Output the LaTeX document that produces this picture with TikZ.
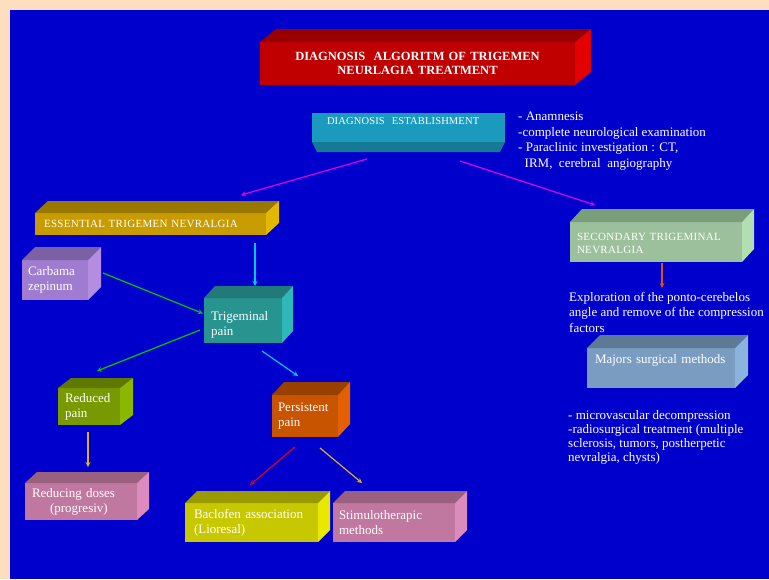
\documentclass[tikz,border=0pt]{standalone}
\usepackage{fontspec}
\setmainfont{Liberation Serif}
\usepackage{tikz}

\definecolor{frame}{RGB}{253,223,192}
\definecolor{sky}{RGB}{0,0,204}
\definecolor{ttlF}{RGB}{192,0,0}\definecolor{ttlT}{RGB}{152,0,0}\definecolor{ttlS}{RGB}{226,0,0}
\definecolor{dgnF}{RGB}{26,155,190}\definecolor{dgnB}{RGB}{22,122,150}
\definecolor{essF}{RGB}{200,156,0}\definecolor{essT}{RGB}{152,120,0}\definecolor{essS}{RGB}{226,184,0}
\definecolor{secF}{RGB}{155,192,155}\definecolor{secT}{RGB}{122,158,122}\definecolor{secS}{RGB}{178,222,178}
\definecolor{majF}{RGB}{122,156,192}\definecolor{majT}{RGB}{92,122,150}\definecolor{majS}{RGB}{138,180,220}
\definecolor{carF}{RGB}{160,124,208}\definecolor{carT}{RGB}{124,96,164}\definecolor{carS}{RGB}{180,140,224}
\definecolor{trgF}{RGB}{40,148,144}\definecolor{trgT}{RGB}{34,122,120}\definecolor{trgS}{RGB}{48,184,184}
\definecolor{perF}{RGB}{200,84,0}\definecolor{perT}{RGB}{152,64,0}\definecolor{perS}{RGB}{226,96,0}
\definecolor{redF}{RGB}{120,154,0}\definecolor{redT}{RGB}{94,120,0}\definecolor{redS}{RGB}{138,184,0}
\definecolor{pnkF}{RGB}{192,120,160}\definecolor{pnkT}{RGB}{154,96,128}\definecolor{pnkS}{RGB}{220,140,188}
\definecolor{bacF}{RGB}{200,200,0}\definecolor{bacT}{RGB}{154,154,0}\definecolor{bacS}{RGB}{232,232,0}
\definecolor{lnMag}{RGB}{224,0,224}
\definecolor{lnCya}{RGB}{0,200,255}
\definecolor{lnGrn}{RGB}{0,200,0}
\definecolor{lnOrg}{RGB}{220,80,20}
\definecolor{lnRed}{RGB}{220,0,30}
\definecolor{lnGld}{RGB}{222,176,40}

% top and right faces of a box
\newcommand{\cubefaces}[5]{%
  \fill[#4] (#1.north west) -- ++(#2,-#3) -- ([shift={(#2,-#3)}]#1.north east) -- (#1.north east) -- cycle;
  \fill[#5] (#1.north east) -- ++(#2,-#3) -- ([shift={(#2,-#3)}]#1.south east) -- (#1.south east) -- cycle;}

\tikzset{
  cube/.style={rectangle, outer sep=0pt, inner ysep=0pt, anchor=north west, text=white, align=left},
  body/.style={font=\fontsize{13}{15}\selectfont},
  caps/.style={font=\fontsize{11}{13}\selectfont\addfontfeature{LetterSpace=2.7}},
  note/.style={text=white, inner sep=0pt, anchor=north west, align=left, font=\fontsize{13}{15.5}\selectfont},
}

\begin{document}
\begin{tikzpicture}[x=1pt, y=-1pt, >=stealth]
\fill[frame] (0,0) rectangle (769,579);
\fill[sky] (10,10) rectangle (769,579);

% boxes
\node[cube, fill=ttlF, minimum width=315pt, minimum height=43pt, inner xsep=6pt, text width=303pt, align=center,
  font=\bfseries\fontsize{12.5}{14}\selectfont] (title) at (260,42) {DIAGNOSIS\ \ ALGORITM OF TRIGEMEN\\NEURLAGIA TREATMENT};
\node[cube, fill=dgnF, minimum width=193pt, minimum height=29pt, inner xsep=15pt, text width=163pt, text depth=12pt,
  font=\fontsize{10.5}{12.5}\selectfont\addfontfeature{LetterSpace=1.5}] (diag) at (312,113) {DIAGNOSIS\ \ ESTABLISHMENT};
\node[cube, caps, fill=essF, minimum width=231pt, minimum height=22pt, inner xsep=9pt, text width=213pt] (ess) at (35,213) {ESSENTIAL TRIGEMEN NEVRALGIA};
\node[cube, caps, fill=secF, minimum width=172pt, minimum height=40pt, inner xsep=7pt, text width=158pt, text depth=10pt] (sec) at (570,222) {SECONDARY TRIGEMINAL\\NEVRALGIA};
\node[cube, body, fill=majF, minimum width=148pt, minimum height=40pt, inner xsep=6pt, text width=136pt, text depth=18pt] (maj) at (587,348) {\hspace*{2pt}Majors surgical methods};
\node[cube, body, fill=carF, minimum width=66pt, minimum height=40pt, inner xsep=6pt, text width=54pt] (carb) at (22,260) {Carbama\\zepinum};
\node[cube, body, fill=trgF, minimum width=78pt, minimum height=45pt, inner xsep=7pt, text width=64pt, text depth=9pt] (trig) at (204,298) {Trigeminal\\pain};
\node[cube, body, fill=perF, minimum width=66pt, minimum height=42pt, inner xsep=6pt, text width=54pt] (pers) at (272,395) {Persistent\\pain};
\node[cube, body, fill=redF, minimum width=62pt, minimum height=37pt, inner xsep=7pt, text width=48pt] (red) at (58,388) {Reduced\\pain};
\node[cube, body, fill=pnkF, minimum width=112pt, minimum height=37pt, inner xsep=7pt, text width=98pt] (dose) at (25,483) {Reducing doses\\\hspace*{18pt}(progresiv)};
\node[cube, body, fill=bacF, minimum width=133pt, minimum height=39pt, inner xsep=9pt, text width=115pt] (bac) at (185,503) {Baclofen association\\(Lioresal)};
\node[cube, body, fill=pnkF, minimum width=122pt, minimum height=39pt, inner xsep=6pt, text width=110pt] (stim) at (333,503) {Stimulotherapic\\methods};

\cubefaces{title}{16}{13}{ttlT}{ttlS}
\fill[dgnB] (diag.south west) -- (diag.south east) -- ++(-5,10) -- ([shift={(5,10)}]diag.south west) -- cycle;
\cubefaces{ess}{13}{12}{essT}{essS}
\cubefaces{sec}{12}{13}{secT}{secS}
\cubefaces{maj}{13}{13}{majT}{majS}
\cubefaces{carb}{13}{13}{carT}{carS}
\cubefaces{trig}{11}{12}{trgT}{trgS}
\cubefaces{pers}{12}{13}{perT}{perS}
\cubefaces{red}{13}{10}{redT}{redS}
\cubefaces{dose}{12}{11}{pnkT}{pnkS}
\cubefaces{bac}{12}{12}{bacT}{bacS}
\cubefaces{stim}{12}{12}{pnkT}{pnkS}

% side texts
\node[note] (exam) at (518,112) {- Anamnesis\\-complete neurological examination\\- Paraclinic investigation : CT,\\\ \ IRM,\ \ cerebral\ \ angiography};
\node[note] (explor) at (569,292) {Exploration of the ponto-cerebelos\\angle and remove of the compression\\factors};
\node[note, font=\fontsize{13}{14.2}\selectfont] (meth) at (568,410) {- microvascular decompression\\-radiosurgical treatment (multiple\\sclerosis, tumors, postherpetic\\nevralgia, chysts)};

% arrows
\path[->, line width=1.2pt]
([shift={(55,17)}]diag.south west) edge[lnMag] ([shift={(-25,-18)}]ess.north east)
([shift={(-45,19)}]diag.south east) edge[lnMag] ([shift={(25,-17)}]sec.north west)
([shift={(6,1)}]sec.south) edge[lnOrg] ([shift={(6,26)}]sec.south)
([shift={(-11,8)}]ess.south east) edge[lnCya] ([shift={(12,-12)}]trig.north)
([shift={(15,-7)}]carb.east) edge[lnGrn] ([shift={(-1,-7)}]trig.west)
([shift={(-4,9.5)}]trig.west) edge[lnGrn] ([shift={(8,-17)}]red.north)
([shift={(19,8)}]trig.south) edge[lnCya] ([shift={(-7,-19)}]pers.north)
([shift={(-1,7)}]red.south) edge[lnGld] ([shift={(7,-16)}]dose.north)
([shift={(-10,10)}]pers.south) edge[lnRed] ([shift={(-1.5,-18)}]bac.north)
([shift={(15,11)}]pers.south) edge[lnGld] ([shift={(-32,-20)}]stim.north);
\end{tikzpicture}
\end{document}
